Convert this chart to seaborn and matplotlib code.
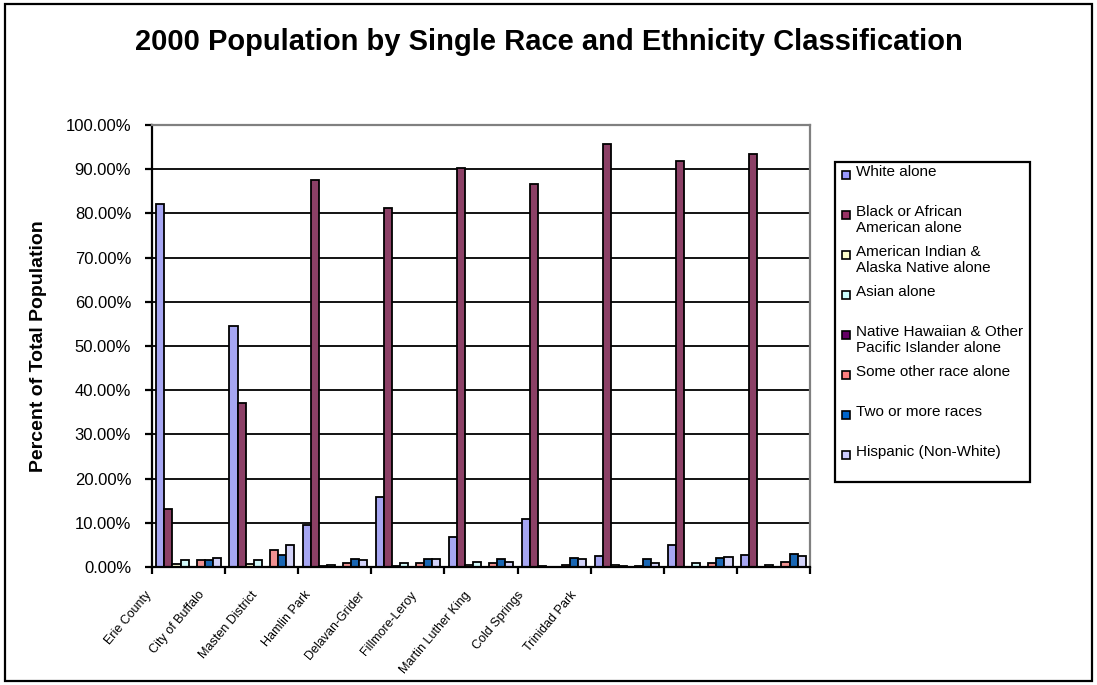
import numpy as np
import pandas as pd
import matplotlib
matplotlib.use('Agg')
from matplotlib import pyplot as plt
from matplotlib.patches import Rectangle
from matplotlib.ticker import FuncFormatter
import seaborn as sns

areas = ['Erie County', 'City of Buffalo', 'Masten District', 'Hamlin Park', 'Delavan-Grider',
         'Fillmore-Leroy', 'Martin Luther King', 'Cold Springs', 'Trinidad Park']
races = ['White alone', 'Black or African American alone', 'American Indian & Alaska Native alone',
         'Asian alone', 'Native Hawaiian & Other Pacific Islander alone', 'Some other race alone',
         'Two or more races', 'Hispanic (Non-White)']
legend_labels = ['White alone', 'Black or African\nAmerican alone', 'American Indian &\nAlaska Native alone',
                 'Asian alone', 'Native Hawaiian & Other\nPacific Islander alone', 'Some other race alone',
                 'Two or more races', 'Hispanic (Non-White)']
colors = ['#9999FF', '#993366', '#FFFFCC', '#CCFFFF', '#660066', '#FF8080', '#0066CC', '#CCCCFF']

# percent of total population
white = [82.2, 54.5, 9.4, 15.8, 6.7, 10.8, 2.4, 4.9, 2.8]
black = [13.1, 37.2, 87.6, 81.2, 90.2, 86.6, 95.6, 91.8, 93.4]
am_indian = [0.7, 0.7, 0.2, 0.2, 0.5, 0.3, 0.4, 0.1, 0.1]
asian = [1.6, 1.6, 0.5, 0.8, 1.1, 0.1, 0.2, 0.8, 0.5]
hawaiian = [0.03, 0.05, 0.02, 0.02, 0.03, 0.03, 0.02, 0.03, 0.03]
other = [1.6, 3.9, 0.8, 0.8, 0.8, 0.5, 0.2, 1.0, 1.2]
two_more = [1.6, 2.7, 1.8, 1.9, 1.7, 2.1, 1.8, 2.1, 3.0]
hispanic = [2.1, 5.0, 1.6, 1.7, 1.2, 1.9, 1.0, 2.3, 2.6]

series = [white, black, am_indian, asian, hawaiian, other, two_more, hispanic]
rows = []
for race, vals in zip(races, series):
    for area, v in zip(areas, vals):
        rows.append({'area': area, 'race': race, 'pct': v})
df = pd.DataFrame(rows)

sns.set_style('white')
plt.rcParams['font.family'] = ['Liberation Sans', 'DejaVu Sans']
plt.rcParams['text.color'] = 'black'
plt.rcParams['xtick.color'] = 'black'
plt.rcParams['ytick.color'] = 'black'

fig = plt.figure(figsize=(10.97, 6.85), dpi=100)
W, H = 1097, 685
ax = fig.add_axes([152 / W, 1 - 567 / H, 658 / W, 442 / H])

sns.barplot(data=df, x='area', y='pct', hue='race', order=areas, hue_order=races,
            palette=colors, width=0.88, gap=0, edgecolor='black', linewidth=1.3,
            errorbar=None, legend=False, ax=ax)

ax.set_ylim(0, 100)
ax.set_yticks(range(0, 101, 10))
ax.yaxis.set_major_formatter(FuncFormatter(lambda v, p: f'{v:.2f}%'))
ax.grid(axis='y', color='black', lw=1.3)
ax.set_axisbelow(True)
for s in ['left', 'bottom']:
    ax.spines[s].set_color('black')
    ax.spines[s].set_linewidth(1.6)
for s in ['top', 'right']:
    ax.spines[s].set_color('#808080')
    ax.spines[s].set_linewidth(1.6)
ax.tick_params(axis='y', direction='out', length=5, width=1.6, labelsize=12, pad=10, left=True)

# tick marks on the category boundaries, labels drawn separately
ax.set_xticks(np.arange(-0.5, 9, 1))
ax.set_xticklabels([])
ax.tick_params(axis='x', direction='out', length=5, width=1.6, bottom=True)
ax.set_xlim(-0.5, 8.5)
ax.set_xlabel('')
ax.set_ylabel('')

# excel squeezes the category labels to the left
lab_x = [-0.6 + 0.727 * i for i in range(len(areas))]
for x, name in zip(lab_x, areas):
    ax.text(x, -0.05, name, transform=ax.get_xaxis_transform(), rotation=50,
            ha='right', va='top', rotation_mode='anchor', fontsize=9, clip_on=False)

fig.text(0.5, 1 - 42 / H, '2000 Population by Single Race and Ethnicity Classification',
         ha='center', va='center', fontsize=21, weight='bold')
fig.text(39 / W, 1 - 346 / H, 'Percent of Total Population', rotation=90,
         ha='center', va='center', fontsize=14, weight='bold')

# legend box
box = Rectangle((835 / W, 1 - 482 / H), 195 / W, 320 / H, transform=fig.transFigure,
                fill=False, edgecolor='black', lw=1.6)
fig.add_artist(box)
for i, (lab, c) in enumerate(zip(legend_labels, colors)):
    yc = 174.5 + 40 * i
    fig.add_artist(Rectangle((842 / W, 1 - (yc + 4) / H), 8 / W, 8 / H, transform=fig.transFigure,
                             facecolor=c, edgecolor='black', lw=1.2))
    t = fig.text(856 / W, 1 - (165 + 40 * i) / H, lab, ha='left', va='top', fontsize=11)
    t.set_clip_path(box)

# outer chart border
fig.add_artist(Rectangle((5 / W, 1 - 681 / H), 1087 / W, 677 / H, transform=fig.transFigure,
                         fill=False, edgecolor='black', lw=1.6))

fig.savefig('out.png', dpi=100)
